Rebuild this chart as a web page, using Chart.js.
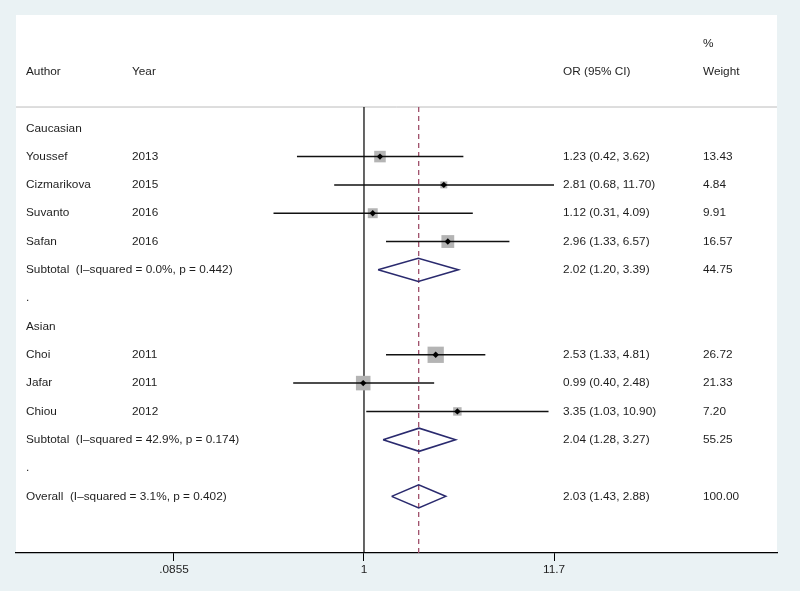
<!DOCTYPE html>
<html>
<head>
<meta charset="utf-8">
<script src="https://cdn.jsdelivr.net/npm/chart.js@4.4.0/dist/chart.umd.min.js"></script>
<style>
  html, body { margin: 0; padding: 0; background: #eaf2f4; }
  #wrap { width: 800px; height: 591px; }
</style>
</head>
<body>
<div id="wrap"><canvas id="forest"></canvas></div>
<script>
// study rows
const studyAuthors = ['Youssef', 'Cizmarikova', 'Suvanto', 'Safan', 'Choi', 'Jafar', 'Chiou'];
const studyYears = ['2013', '2015', '2016', '2016', '2011', '2011', '2012'];
const studyRows = [1, 2, 3, 4, 8, 9, 10];
const studyOR = [1.23, 2.81, 1.12, 2.96, 2.53, 0.99, 3.35];
const studyLo = [0.42, 0.68, 0.31, 1.33, 1.33, 0.40, 1.03];
const studyHi = [3.62, 11.70, 4.09, 6.57, 4.81, 2.48, 10.90];
const studyWeight = [13.43, 4.84, 9.91, 16.57, 26.72, 21.33, 7.20];

// pooled rows
const poolLabels = ['Subtotal  (I\u2013squared = 0.0%, p = 0.442)',
                    'Subtotal  (I\u2013squared = 42.9%, p = 0.174)',
                    'Overall  (I\u2013squared = 3.1%, p = 0.402)'];
const poolRows = [5, 11, 13];
const poolOR = [2.02, 2.04, 2.03];
const poolLo = [1.20, 1.28, 1.43];
const poolHi = [3.39, 3.27, 2.88];
const poolWeight = [44.75, 55.25, 100.00];

// group headings and blank rows
const groupLabels = ['Caucasian', 'Asian'];
const groupRows = [0, 7];
const spacerRows = [6, 12];

// axis
const tickValues = [0.0855, 1, 11.7];
const tickLabels = ['.0855', '1', '11.7'];

const FAMILY = '"Liberation Sans", Arial, sans-serif';
const FONT = '11.8px ' + FAMILY;
const TEXT = '#1e1e1e';
const NAVY = '#2a2a6e';
const TOP_LINE = -0.75;   // row where the header rule sits
const DIAMOND_H = 0.41;   // half-height of pooled diamonds, in rows

const datasets = [];

// weight squares (drawn lowest)
datasets.push({
  order: 5,
  data: studyOR.map((v, i) => ({x: v, y: studyRows[i]})),
  pointStyle: 'rect',
  pointRadius: studyWeight.map(w => 3.15 * Math.sqrt(w) / Math.SQRT2),
  pointHoverRadius: studyWeight.map(w => 3.15 * Math.sqrt(w) / Math.SQRT2),
  backgroundColor: '#b4b4b4',
  borderWidth: 0
});

// confidence intervals
studyOR.forEach((v, i) => {
  datasets.push({
    order: 3,
    data: [{x: studyLo[i], y: studyRows[i]}, {x: studyHi[i], y: studyRows[i]}],
    showLine: true, borderColor: '#111', borderWidth: 1.5, pointRadius: 0
  });
});

// point estimates (on top)
datasets.push({
  order: 1,
  data: studyOR.map((v, i) => ({x: v, y: studyRows[i]})),
  pointStyle: 'rectRot', pointRadius: 3.2, pointHoverRadius: 3.2,
  backgroundColor: '#000', borderColor: '#000', borderWidth: 0
});

// pooled diamonds
poolOR.forEach((v, i) => {
  const r = poolRows[i];
  datasets.push({
    order: 2,
    data: [{x: poolLo[i], y: r}, {x: v, y: r - DIAMOND_H}, {x: poolHi[i], y: r},
           {x: v, y: r + DIAMOND_H}, {x: poolLo[i], y: r}],
    showLine: true, borderColor: NAVY, borderWidth: 1.6, pointRadius: 0, tension: 0
  });
});

// null line and overall estimate line
datasets.push({
  order: 6,
  data: [{x: 1, y: TOP_LINE}, {x: 1, y: 15}],
  showLine: true, borderColor: '#000', borderWidth: 1.2, pointRadius: 0
});
datasets.push({
  order: 6,
  data: [{x: poolOR[2], y: TOP_LINE}, {x: poolOR[2], y: 15}],
  showLine: true, borderColor: '#a0506a', borderWidth: 1.3, borderDash: [5, 4], pointRadius: 0
});

const textPlugin = {
  id: 'forestText',
  beforeDraw(chart) {
    const {ctx, chartArea: a} = chart;
    ctx.save();
    ctx.fillStyle = '#eaf2f4';
    ctx.fillRect(0, 0, chart.width, chart.height);
    ctx.fillStyle = '#ffffff';
    ctx.fillRect(a.left, a.top, a.right - a.left, a.bottom - a.top);
    const yl = chart.scales.y.getPixelForValue(TOP_LINE);
    ctx.strokeStyle = '#bdbdbd';
    ctx.lineWidth = 1;
    ctx.beginPath();
    ctx.moveTo(a.left, yl);
    ctx.lineTo(a.right, yl);
    ctx.stroke();
    ctx.restore();
  },
  afterDatasetsDraw(chart) {
    const {ctx, chartArea: a} = chart;
    const y = chart.scales.y;
    const colAuthor = a.left + 10, colYear = a.left + 116;
    const colOR = a.left + 547, colW = a.left + 687;
    ctx.save();
    ctx.font = FONT;
    ctx.fillStyle = TEXT;
    ctx.textBaseline = 'middle';
    ctx.textAlign = 'left';
    const put = (s, x, r) => ctx.fillText(s, x, y.getPixelForValue(r));
    put('%', colW, -3);
    put('Author', colAuthor, -2);
    put('Year', colYear, -2);
    put('OR (95% CI)', colOR, -2);
    put('Weight', colW, -2);
    groupLabels.forEach((g, i) => put(g, colAuthor, groupRows[i]));
    spacerRows.forEach(r => put('.', colAuthor, r));
    studyAuthors.forEach((s, i) => {
      put(s, colAuthor, studyRows[i]);
      put(studyYears[i], colYear, studyRows[i]);
      put(studyOR[i].toFixed(2) + ' (' + studyLo[i].toFixed(2) + ', ' + studyHi[i].toFixed(2) + ')', colOR, studyRows[i]);
      put(studyWeight[i].toFixed(2), colW, studyRows[i]);
    });
    poolLabels.forEach((s, i) => {
      put(s, colAuthor, poolRows[i]);
      put(poolOR[i].toFixed(2) + ' (' + poolLo[i].toFixed(2) + ', ' + poolHi[i].toFixed(2) + ')', colOR, poolRows[i]);
      put(poolWeight[i].toFixed(2), colW, poolRows[i]);
    });
    ctx.restore();
  }
};

new Chart(document.getElementById('forest'), {
  type: 'scatter',
  data: { datasets },
  options: {
    responsive: true,
    maintainAspectRatio: false,
    animation: false,
    layout: { padding: { left: 16, right: 23, top: 15, bottom: 0 } },
    plugins: { legend: { display: false }, tooltip: { enabled: false } },
    scales: {
      x: {
        type: 'logarithmic',
        min: 0.01106,
        max: 209.8,
        afterBuildTicks: s => { s.ticks = tickValues.map(v => ({value: v})); },
        afterFit: s => { s.height = 38; },
        ticks: {
          callback: (v, i) => tickLabels[i],
          color: TEXT,
          font: { family: FAMILY, size: 11.8 },
          padding: 2,
          maxRotation: 0,
          autoSkip: false
        },
        grid: { drawOnChartArea: false, drawTicks: true, tickLength: 8, color: '#000', lineWidth: 1 },
        border: { display: true, color: '#000', width: 1.2 }
      },
      y: {
        type: 'linear',
        reverse: true,
        min: -4,
        max: 15,
        display: false
      }
    }
  },
  plugins: [textPlugin]
});
</script>
</body>
</html>
